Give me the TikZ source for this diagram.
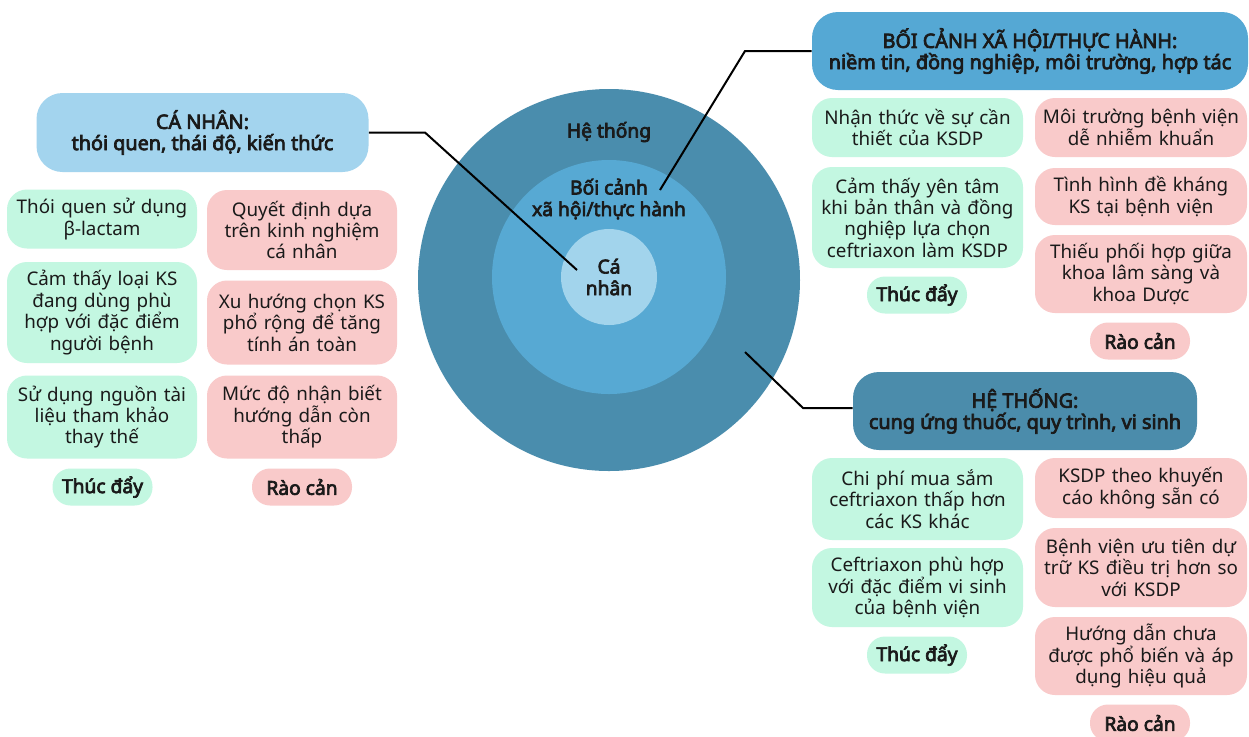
\documentclass[tikz,border=0pt]{standalone}
\usepackage{fontspec}
\setmainfont{Noto Sans}[AutoFakeBold=3.6]
\definecolor{outerc}{HTML}{4A8DAD}
\definecolor{midc}{HTML}{57A9D3}
\definecolor{innerc}{HTML}{A2D4EC}
\definecolor{hcan}{HTML}{A3D4EE}
\definecolor{hboi}{HTML}{55A8D4}
\definecolor{hhe}{HTML}{4B8CAB}
\definecolor{mint}{HTML}{C3F7E1}
\definecolor{pinkc}{HTML}{F9CACA}
\definecolor{ink}{HTML}{1A1A1A}
\tikzset{
  body/.style={font=\fontsize{9.4}{10.7}\selectfont, text=ink, align=center, inner sep=0pt},
  gbox/.style={body, fill=mint, rounded corners=10pt},
  pbox/.style={body, fill=pinkc, rounded corners=10pt},
  head/.style={font=\bfseries\fontsize{9.9}{10.6}\selectfont, text=ink, align=center, inner sep=0pt, rounded corners=13pt},
  pill/.style={font=\bfseries\fontsize{9.6}{10.6}\selectfont, text=ink, align=center, inner sep=0pt, rounded corners=9pt, minimum width=50pt, minimum height=18.5pt},
  ctext/.style={font=\bfseries\fontsize{9.6}{10.8}\selectfont, text=ink, align=center, inner sep=0pt},
  conn/.style={draw=black, line width=1pt},
}
\begin{document}
\begin{tikzpicture}[x=0.5pt,y=-0.5pt]
\useasboundingbox (0,0) rectangle (1249,736);
\fill[white] (0,0) rectangle (1249,736);
% circles
\node[circle, fill=outerc, minimum size=191pt, inner sep=0] (outer) at (609,280) {};
\node[circle, fill=midc, minimum size=117pt, inner sep=0] (mid) at (609,277) {};
\node[circle, fill=innerc, minimum size=48pt, inner sep=0] (inner) at (609,277) {};
\node[ctext] (tsys) at (609,132) {Hệ thống};
\node[ctext] (tsoc) at (609,199) {Bối cảnh\\xã hội/thực hành};
\node[ctext] (tind) at (609,277) {Cá\\nhân};
% headers
\node[head, fill=hcan, minimum width=166pt, minimum height=39.5pt] (hca) at (202.5,132.5) {CÁ NHÂN:\\thói quen, thái độ, kiến thức};
\node[head, fill=hboi, minimum width=218pt, minimum height=39pt] (hbo) at (1030,51) {BỐI CẢNH XÃ HỘI/THỰC HÀNH:\\niềm tin, đồng nghiệp, môi trường, hợp tác};
\node[head, fill=hhe, minimum width=172pt, minimum height=39pt] (hht) at (1025,411) {HỆ THỐNG:\\cung ứng thuốc, quy trình, vi sinh};
% left column
\node[gbox, text width=95pt, minimum height=29.5pt] (l1) at (102,219) {Thói quen sử dụng\\β-lactam};
\node[gbox, text width=95pt, minimum height=50.5pt] (l2) at (102,312.5) {Cảm thấy loại KS\\đang dùng phù\\hợp với đặc điểm\\người bệnh};
\node[gbox, text width=95pt, minimum height=41.5pt] (l3) at (102,417) {Sử dụng nguồn tài\\liệu tham khảo\\thay thế};
\node[pill, fill=mint] (lt) at (102.5,487) {Thúc đẩy};
\node[pbox, text width=95pt, minimum height=40pt] (l4) at (302,230) {Quyết định dựa\\trên kinh nghiệm\\cá nhân};
\node[pbox, text width=95pt, minimum height=42pt] (l5) at (302,322.5) {Xu hướng chọn KS\\phổ rộng để tăng\\tính án toàn};
\node[pbox, text width=95pt, minimum height=41.5pt] (l6) at (302,417) {Mức độ nhận biết\\hướng dẫn còn\\thấp};
\node[pill, fill=pinkc] (lr) at (302,487) {Rào cản};
% right top
\node[gbox, text width=105.5pt, minimum height=29.5pt] (r1) at (917.5,127.5) {Nhận thức về sự cần\\thiết của KSDP};
\node[gbox, text width=105.5pt, minimum height=50.5pt] (r2) at (917.5,217.5) {Cảm thấy yên tâm\\khi bản thân và đồng\\nghiệp lựa chọn\\ceftriaxon làm KSDP};
\node[pill, fill=mint] (rt1) at (917,295) {Thúc đẩy};
\node[pbox, text width=106pt, minimum height=29.5pt] (r3) at (1141,127.5) {Môi trường bệnh viện\\dễ nhiễm khuẩn};
\node[pbox, text width=106pt, minimum height=28.5pt] (r4) at (1141,196.5) {Tình hình đề kháng\\KS tại bệnh viện};
\node[pbox, text width=106pt, minimum height=39pt] (r5) at (1141,274) {Thiếu phối hợp giữa\\khoa lâm sàng và\\khoa Dược};
\node[pill, fill=pinkc] (rr1) at (1140,341) {Rào cản};
% right bottom
\node[gbox, text width=105.5pt, minimum height=41pt] (r6) at (917.5,499) {Chi phí mua sắm\\ceftriaxon thấp hơn\\các KS khác};
\node[gbox, text width=105.5pt, minimum height=39.5pt] (r7) at (917.5,587.5) {Ceftriaxon phù hợp\\với đặc điểm vi sinh\\của bệnh viện};
\node[pill, fill=mint] (rt2) at (917,655) {Thúc đẩy};
\node[pbox, text width=106pt, minimum height=30pt] (r8) at (1141,488) {KSDP theo khuyến\\cáo không sẵn có};
\node[pbox, text width=106pt, minimum height=39.5pt] (r9) at (1141,567.5) {Bệnh viện ưu tiên dự\\trữ KS điều trị hơn so\\với KSDP};
\node[pbox, text width=106pt, minimum height=39pt] (r10) at (1141,656) {Hướng dẫn chưa\\được phổ biến và áp\\dụng hiệu quả};
\node[pill, fill=pinkc] (rr2) at (1140,723) {Rào cản};
% connectors
\coordinate (k1) at (425,132.5);
\coordinate (e1) at (577,270);
\coordinate (k2) at (745,51);
\coordinate (e2) at (660,190);
\coordinate (k3) at (803,408);
\coordinate (e3) at (745,352);
\draw[conn] (hca.east) -- (k1) -- (e1);
\draw[conn] (hbo.west) -- (k2) -- (e2);
\draw[conn] (hht.west |- k3) -- (k3) -- (e3);
\end{tikzpicture}
\end{document}
